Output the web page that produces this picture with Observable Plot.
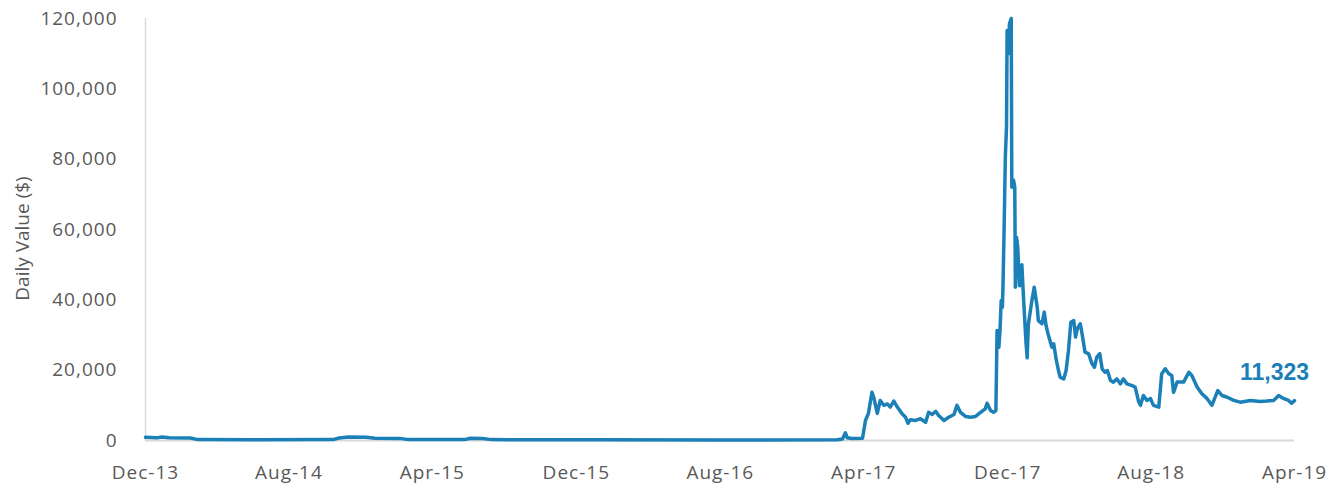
<!DOCTYPE html>
<html><head><meta charset="utf-8">
<script src="https://cdn.jsdelivr.net/npm/d3@7"></script>
<script src="https://cdn.jsdelivr.net/npm/@observablehq/plot@0.6"></script>
<style>
body{margin:0;background:#fff;}
#chart svg{display:block;}
#chart g[aria-label$="tick label"] text, #chart g[aria-label="y-axis title"] text {letter-spacing: 1px;}
</style>
</head><body><div id="chart"></div>
<script>
const dates = [
"2013-12-01","2013-12-20","2013-12-29","2014-01-10","2014-02-15","2014-02-28","2014-06-01","2014-10-15","2014-10-25","2014-11-10",
"2014-12-10","2014-12-25","2015-02-05","2015-02-20","2015-05-25","2015-06-05","2015-06-25","2015-07-10","2016-01-01","2016-08-01",
"2017-02-15","2017-02-24","2017-03-01","2017-03-04","2017-03-12","2017-03-30","2017-04-04","2017-04-09","2017-04-15","2017-04-18",
"2017-04-24","2017-04-29","2017-05-05","2017-05-11","2017-05-16","2017-05-22","2017-05-28","2017-06-05","2017-06-11","2017-06-15",
"2017-06-19","2017-06-28","2017-07-06","2017-07-15","2017-07-20","2017-07-26","2017-08-01","2017-08-06","2017-08-15","2017-08-23",
"2017-09-01","2017-09-06","2017-09-12","2017-09-21","2017-09-29","2017-10-07","2017-10-16","2017-10-24","2017-10-27","2017-11-02",
"2017-11-07","2017-11-11","2017-11-13","2017-11-16","2017-11-18","2017-11-20","2017-11-22","2017-11-23","2017-11-25","2017-11-27",
"2017-11-29","2017-11-30","2017-12-01","2017-12-02","2017-12-04","2017-12-07","2017-12-08","2017-12-11","2017-12-13","2017-12-14",
"2017-12-16","2017-12-18","2017-12-21","2017-12-22","2017-12-25","2017-12-28","2018-01-01","2018-01-03","2018-01-05","2018-01-11",
"2018-01-15","2018-01-20","2018-01-22","2018-01-28","2018-02-01","2018-02-04","2018-02-08","2018-02-14","2018-02-17","2018-02-21",
"2018-02-25","2018-02-28","2018-03-06","2018-03-10","2018-03-14","2018-03-18","2018-03-23","2018-03-26","2018-03-29","2018-04-03",
"2018-04-07","2018-04-11","2018-04-17","2018-04-23","2018-04-27","2018-05-01","2018-05-06","2018-05-10","2018-05-15","2018-05-19",
"2018-05-24","2018-05-29","2018-06-04","2018-06-10","2018-06-15","2018-06-21","2018-06-30","2018-07-05","2018-07-11","2018-07-14",
"2018-07-19","2018-07-25","2018-07-31","2018-08-05","2018-08-14","2018-08-19","2018-08-25","2018-08-31","2018-09-05","2018-09-08",
"2018-09-14","2018-09-25","2018-10-04","2018-10-09","2018-10-18","2018-10-26","2018-11-04","2018-11-12","2018-11-22","2018-11-29",
"2018-12-08","2018-12-19","2018-12-30","2019-01-16","2019-02-02","2019-02-13","2019-02-25","2019-03-05","2019-03-14","2019-03-22",
"2019-03-27","2019-04-01"
];
const values = [
900,750,1000,800,700,250,200,250,700,1000,
950,650,600,250,250,650,550,250,200,150,
200,450,2200,800,550,650,5700,7700,13700,12300,
7700,11400,10000,10400,9500,11200,9500,7600,6600,4900,
5900,5700,6200,5200,8000,7400,8300,7100,5700,6600,
7400,10000,8000,6800,6600,6800,8000,9000,10600,8500,
8000,8500,31300,26500,31300,39800,37900,43600,60700,80600,
89100,116600,115700,110000,118500,120000,72000,74000,72000,43600,
57800,55000,44000,46000,50000,40000,28000,23500,33000,39800,
43600,37900,34100,33200,36500,32700,29900,26500,27500,23200,
19900,18000,17500,19900,25600,33600,34100,29400,31800,33200,
29400,25100,24700,21800,20800,23700,24700,20400,19400,19900,
17100,16600,17500,16100,17500,16100,15600,15200,11000,10000,
12800,11400,11900,10000,9500,19000,20400,19000,18500,13700,
16600,16600,19400,18500,15200,13300,11900,10000,14200,12800,
12300,11400,10900,11400,11100,11200,11400,12800,11900,11400,
10600,11323
];
const xTickDates = ["2013-12-01","2014-08-01","2015-04-01","2015-12-01","2016-08-01","2017-04-01","2017-12-01","2018-08-01","2019-04-01"];
const yTickValues = [0,20000,40000,60000,80000,100000,120000];
const yLabel = "Daily Value ($)";
const xDomain = ["2013-12-01","2019-04-01"];
const yDomain = [0,120000];

const parse = s => new Date(s + "T00:00:00Z");
const data = dates.map((d,i) => ({date: parse(d), value: values[i]}));
const last = data[data.length - 1];
const lineColor = "#1b80b8";

const chart = Plot.plot({
  width: 1340, height: 484,
  marginLeft: 145, marginRight: 46, marginTop: 18, marginBottom: 44,
  style: {fontFamily: "'Open Sans', sans-serif", color: "#595959", background: "#fff"},
  x: {type: "utc", domain: xDomain.map(parse)},
  y: {domain: yDomain},
  marks: [
    Plot.ruleX([parse(xDomain[0])], {y1: yDomain[0], y2: yDomain[1], stroke: "#d9d9d9", strokeWidth: 1.5}),
    Plot.ruleY([0], {stroke: "#d9d9d9", strokeWidth: 2}),
    Plot.axisY({ticks: yTickValues, tickSize: 0, tickPadding: 28, tickFormat: d3.format(","), fontSize: 19, label: null}),
    Plot.axisX({ticks: xTickDates.map(parse), tickSize: 0, tickPadding: 25, tickFormat: d3.utcFormat("%b-%y"), fontSize: 19, label: null}),
    Plot.line(data, {x: "date", y: "value", stroke: lineColor, strokeWidth: 3.5, strokeLinejoin: "round"}),
    Plot.text([last], {x: "date", y: "value", text: d => d3.format(",")(d.value), fill: lineColor, fontWeight: "bold", fontSize: 23, fontFamily: "'Liberation Sans', Arial, sans-serif", dx: -20, dy: -28}),
    Plot.text([yLabel], {text: d => d, frameAnchor: "left", textAnchor: "middle", rotate: -90, dx: -123, dy: 9, fontSize: 19, ariaLabel: "y-axis title"})
  ]
});
document.getElementById("chart").appendChild(chart);
</script>
</body></html>
